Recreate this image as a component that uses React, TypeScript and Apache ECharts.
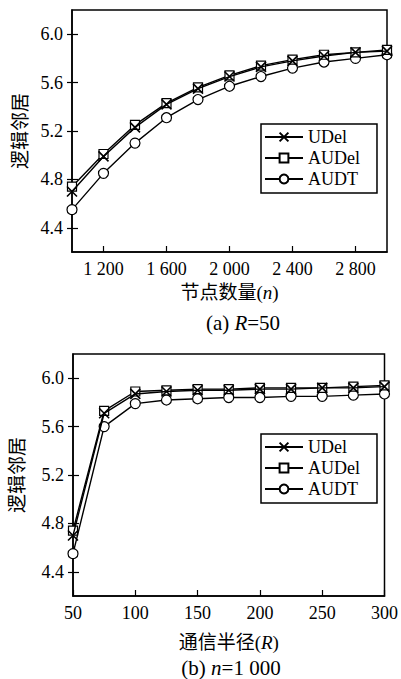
import React, { useEffect, useRef } from "react";
import * as echarts from "echarts";

// ---- Data ----
const xA = [1000, 1200, 1400, 1600, 1800, 2000, 2200, 2400, 2600, 2800, 3000];
const udelA = [4.7, 4.99, 5.23, 5.42, 5.55, 5.65, 5.73, 5.78, 5.82, 5.85, 5.86];
const audelA = [4.74, 5.01, 5.25, 5.43, 5.56, 5.66, 5.74, 5.79, 5.83, 5.85, 5.87];
const audtA = [4.55, 4.85, 5.1, 5.31, 5.46, 5.57, 5.65, 5.72, 5.77, 5.8, 5.83];

const xB = [50, 75, 100, 125, 150, 175, 200, 225, 250, 275, 300];
const udelB = [4.7, 5.71, 5.87, 5.89, 5.9, 5.9, 5.91, 5.91, 5.92, 5.92, 5.93];
const audelB = [4.74, 5.73, 5.89, 5.9, 5.91, 5.91, 5.92, 5.92, 5.92, 5.93, 5.94];
const audtB = [4.55, 5.6, 5.79, 5.82, 5.83, 5.84, 5.84, 5.85, 5.85, 5.86, 5.87];

const yTicks = [4.4, 4.8, 5.2, 5.6, 6.0];
const xTicksA = [1200, 1600, 2000, 2400, 2800];
const seriesNames = ["UDel", "AUDel", "AUDT"];

const SERIF = "'Liberation Serif', 'Times New Roman', 'Noto Sans CJK SC', serif";
const CJK = "'Liberation Serif', 'Noto Sans CJK SC', serif";

const pairs = (xs: number[], ys: number[]) => xs.map((x, i) => [x, ys[i]]);

const X_PATH = "path://M0,0L10,10M10,0L0,10";

function makeSeries(name: string, xi: number, yi: number, data: number[][]) {
  const base: any = {
    name,
    type: "line",
    xAxisIndex: xi,
    yAxisIndex: yi,
    data,
    smooth: false,
    lineStyle: { color: "#000", width: 1.4 },
    color: "#000",
    emphasis: { disabled: true },
  };
  if (name === "UDel") {
    base.symbol = X_PATH;
    base.symbolSize = 10;
    base.itemStyle = { color: "none", borderColor: "#000", borderWidth: 1.6 };
    base.z = 5;
  } else if (name === "AUDel") {
    base.symbol = "rect";
    base.symbolSize = 9;
    base.itemStyle = { color: "#fff", borderColor: "#000", borderWidth: 1.2 };
    base.z = 4;
  } else {
    base.symbol = "circle";
    base.symbolSize = 10;
    base.itemStyle = { color: "#fff", borderColor: "#000", borderWidth: 1.2 };
    base.z = 3;
  }
  return base;
}

function yAxes(gridIndex: number, nameGap: number) {
  return [
    {
      type: "value",
      gridIndex,
      position: "left",
      min: 4.2,
      max: 6.2,
      name: "逻辑邻居",
      nameLocation: "middle",
      nameGap,
      nameTextStyle: { fontFamily: CJK, fontSize: 19, color: "#000" },
      axisLine: { show: true, lineStyle: { color: "#000", width: 1.5 } },
      axisTick: { show: true, inside: false, length: 5, customValues: yTicks, lineStyle: { color: "#000", width: 1.2 } },
      axisLabel: {
        customValues: yTicks,
        margin: 9,
        fontFamily: SERIF,
        fontSize: 18,
        color: "#000",
        formatter: (v: number) => v.toFixed(1),
      },
      splitLine: { show: false },
    },
    {
      type: "value",
      gridIndex,
      position: "left",
      min: 4.2,
      max: 6.2,
      axisLine: { show: false },
      axisTick: { show: true, inside: true, length: 6, customValues: yTicks, lineStyle: { color: "#000", width: 1.2 } },
      axisLabel: { show: false },
      splitLine: { show: false },
    },
  ];
}

function legend(left: number, top: number) {
  return {
    orient: "vertical",
    left,
    top,
    data: seriesNames,
    selectedMode: false,
    borderColor: "#000",
    borderWidth: 1.5,
    backgroundColor: "#fff",
    padding: [4, 17, 5, 3],
    itemGap: 3,
    itemWidth: 38,
    itemHeight: 11,
    textStyle: { fontFamily: SERIF, fontSize: 18, lineHeight: 18, color: "#000" },
  };
}

export default function App() {
  const ref = useRef<HTMLDivElement>(null);

  useEffect(() => {
    if (!ref.current) return;
    const chart = echarts.init(ref.current, null, { renderer: "svg" });
    const option: any = {
      animation: false,
      backgroundColor: "#fff",
      grid: [
        { left: 72, top: 10, width: 315, height: 242, show: true, borderColor: "#000", borderWidth: 1.5, backgroundColor: "transparent" },
        { left: 71, top: 354, width: 316, height: 242, show: true, borderColor: "#000", borderWidth: 1.5, backgroundColor: "transparent" },
      ],
      xAxis: [
        {
          type: "value",
          gridIndex: 0,
          min: 1000,
          max: 3000,
          name: "节点数量({i|n})",
          nameLocation: "middle",
          nameGap: 31,
          nameTextStyle: {
            fontFamily: CJK,
            fontSize: 19,
            color: "#000",
            rich: { i: { fontFamily: SERIF, fontStyle: "italic", fontSize: 19, color: "#000" } },
          },
          axisLine: { show: true, lineStyle: { color: "#000", width: 1.5 } },
          axisTick: { show: true, inside: true, length: 6, customValues: xTicksA, lineStyle: { color: "#000", width: 1.2 } },
          axisLabel: {
            customValues: xTicksA,
            margin: 8,
            fontFamily: SERIF,
            fontSize: 18,
            color: "#000",
            formatter: (v: number) => {
              const s = String(v);
              return s.length > 3 ? s.slice(0, s.length - 3) + " " + s.slice(-3) : s;
            },
          },
          splitLine: { show: false },
        },
        {
          type: "value",
          gridIndex: 1,
          min: 50,
          max: 300,
          interval: 50,
          name: "通信半径({i|R})",
          nameLocation: "middle",
          nameGap: 37,
          nameTextStyle: {
            fontFamily: CJK,
            fontSize: 19,
            color: "#000",
            rich: { i: { fontFamily: SERIF, fontStyle: "italic", fontSize: 19, color: "#000" } },
          },
          axisLine: { show: true, lineStyle: { color: "#000", width: 1.5 } },
          axisTick: { show: true, inside: true, length: 6, lineStyle: { color: "#000", width: 1.2 } },
          axisLabel: { margin: 8, fontFamily: SERIF, fontSize: 18, color: "#000" },
          splitLine: { show: false },
        },
      ],
      yAxis: [...yAxes(0, 40), ...yAxes(1, 46)],
      legend: [legend(261, 124), legend(261, 434)],
      series: [
        makeSeries("AUDT", 0, 0, pairs(xA, audtA)),
        makeSeries("AUDel", 0, 0, pairs(xA, audelA)),
        makeSeries("UDel", 0, 0, pairs(xA, udelA)),
        makeSeries("AUDT", 1, 2, pairs(xB, audtB)),
        makeSeries("AUDel", 1, 2, pairs(xB, audelB)),
        makeSeries("UDel", 1, 2, pairs(xB, udelB)),
      ],
      graphic: [
        {
          type: "text",
          x: 243,
          y: 323,
          style: {
            text: "(a) {i|R}=50",
            fontFamily: SERIF,
            fontSize: 21,
            fill: "#000",
            align: "center",
            verticalAlign: "middle",
            rich: { i: { fontFamily: SERIF, fontStyle: "italic", fontSize: 21, fill: "#000" } },
          },
        },
        {
          type: "text",
          x: 231,
          y: 668,
          style: {
            text: "(b) {i|n}=1 000",
            fontFamily: SERIF,
            fontSize: 21,
            fill: "#000",
            align: "center",
            verticalAlign: "middle",
            rich: { i: { fontFamily: SERIF, fontStyle: "italic", fontSize: 21, fill: "#000" } },
          },
        },
      ],
    };
    chart.setOption(option);
    return () => chart.dispose();
  }, []);

  return (
    <div
      ref={ref}
      style={{ position: "fixed", left: 0, top: 0, width: 401, height: 679, background: "#fff" }}
    />
  );
}
